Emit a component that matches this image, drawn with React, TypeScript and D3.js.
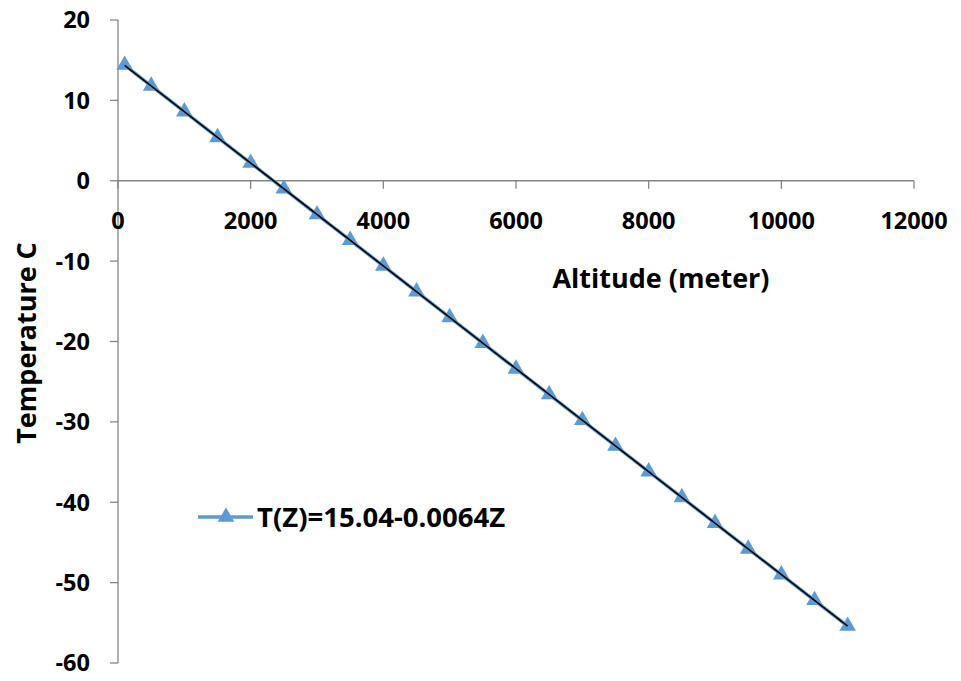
import React from "react";
import * as d3 from "d3";

const altitudes = [100, 500, 1000, 1500, 2000, 2500, 3000, 3500, 4000, 4500, 5000, 5500, 6000, 6500, 7000, 7500, 8000, 8500, 9000, 9500, 10000, 10500, 11000];
const temperatures = [14.4, 11.8, 8.6, 5.4, 2.2, -1.0, -4.2, -7.4, -10.6, -13.8, -17.0, -20.2, -23.4, -26.6, -29.8, -33.0, -36.2, -39.4, -42.6, -45.8, -49.0, -52.2, -55.4];
const xTicks = [0, 2000, 4000, 6000, 8000, 10000, 12000];
const yTicks = [20, 10, 0, -10, -20, -30, -40, -50, -60];
const seriesName = "T(Z)=15.04-0.0064Z";
const xTitle = "Altitude (meter)";
const yTitle = "Temperature C";

const W = 961, H = 681;
const FONT = "'Open Sans', sans-serif";
const AXIS = "#868686";
const BLUE = "#5B9BD5";

export default function App() {
  const x = d3.scaleLinear().domain([0, 12000]).range([118, 914]);
  const y = d3.scaleLinear().domain([-60, 20]).range([663, 20]);
  const pts = altitudes.map((a, i) => [a, temperatures[i]] as [number, number]);
  const line = d3.line<[number, number]>().x(d => x(d[0])).y(d => y(d[1]));

  // linear regression trendline
  const n = pts.length;
  const mx = d3.mean(altitudes)!;
  const my = d3.mean(temperatures)!;
  const slope = d3.sum(pts, d => (d[0] - mx) * (d[1] - my)) / d3.sum(pts, d => (d[0] - mx) ** 2);
  const icpt = my - slope * mx;
  const x0 = altitudes[0], x1 = altitudes[n - 1];

  const tri = d3.symbol().type(d3.symbolTriangle).size(120)()!;

  return (
    <svg width={W} height={H} style={{ position: "fixed", left: 0, top: 0, background: "#fff" }}>
      {/* y axis */}
      <line x1={x(0)} x2={x(0)} y1={y(20)} y2={y(-60)} stroke={AXIS} strokeWidth={1.3} />
      {yTicks.map(t => (
        <g key={t}>
          <line x1={x(0) - 8} x2={x(0)} y1={y(t)} y2={y(t)} stroke={AXIS} strokeWidth={1.3} />
          <text x={90} y={y(t)} dy="0.36em" textAnchor="end" fontFamily={FONT} fontWeight={700} fontSize={23.5} fill="#000">{t}</text>
        </g>
      ))}
      {/* x axis */}
      <line x1={x(0)} x2={x(12000)} y1={y(0)} y2={y(0)} stroke={AXIS} strokeWidth={1.3} />
      {xTicks.map(t => (
        <g key={t}>
          <line x1={x(t)} x2={x(t)} y1={y(0)} y2={y(0) + 8} stroke={AXIS} strokeWidth={1.3} />
          <text x={x(t)} y={229} textAnchor="middle" fontFamily={FONT} fontWeight={700} fontSize={23.5} fill="#000">{t}</text>
        </g>
      ))}
      <text x={661} y={288} textAnchor="middle" fontFamily={FONT} fontWeight={700} fontSize={27} fill="#000">{xTitle}</text>
      <text transform={`translate(36,343) rotate(-90)`} textAnchor="middle" fontFamily={FONT} fontWeight={700} fontSize={27} fill="#000">{yTitle}</text>

      {/* series */}
      <path d={line(pts)!} fill="none" stroke={BLUE} strokeWidth={3.5} />
      {pts.map((d, i) => (
        <path key={i} d={tri} transform={`translate(${x(d[0])},${y(d[1])})`} fill={BLUE} />
      ))}
      {/* trendline */}
      <line x1={x(x0)} y1={y(icpt + slope * x0)} x2={x(x1)} y2={y(icpt + slope * x1)} stroke="#000" strokeWidth={1.6} />

      {/* legend */}
      <line x1={198} x2={253} y1={517} y2={517} stroke={BLUE} strokeWidth={3.5} />
      <path d={tri} transform="translate(226,517)" fill={BLUE} />
      <text x={257} y={527} fontFamily={FONT} fontWeight={700} fontSize={27.5} fill="#000">{seriesName}</text>
    </svg>
  );
}
